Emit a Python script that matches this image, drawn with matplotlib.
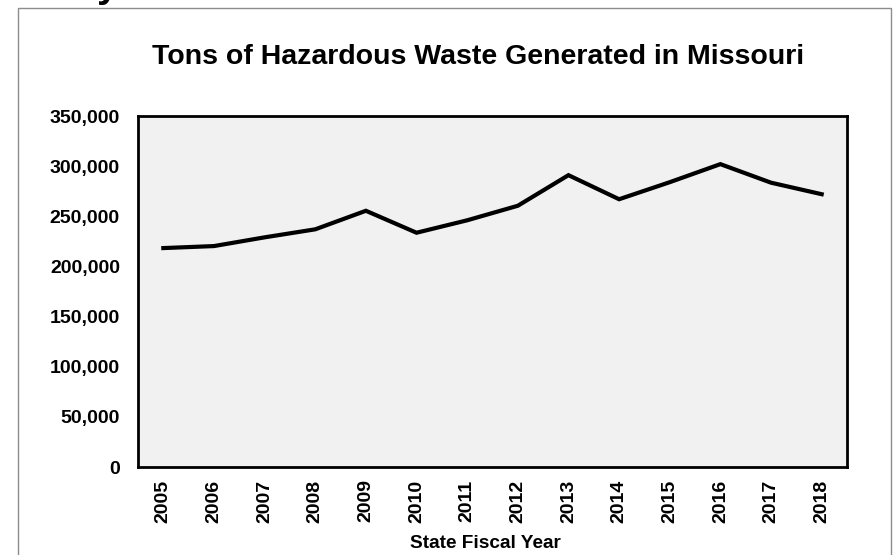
import matplotlib.pyplot as plt
from matplotlib.patches import Rectangle
from matplotlib.ticker import FuncFormatter

plt.rcParams["font.family"] = ["Liberation Sans", "DejaVu Sans"]
plt.rcParams["font.weight"] = "bold"

# data
years = ["2005", "2006", "2007", "2008", "2009", "2010", "2011",
         "2012", "2013", "2014", "2015", "2016", "2017", "2018"]
tons = [218300, 220300, 229000, 237000, 255500, 233600, 246000,
        260500, 291000, 267000, 284000, 302000, 283500, 272000]
y_ticks = [0, 50000, 100000, 150000, 200000, 250000, 300000, 350000]

fig = plt.figure(figsize=(8.96, 5.55), dpi=100)

# outer frame of the pasted chart (runs off the bottom of the image)
fig.patches.append(Rectangle((18 / 896, -0.05), (891 - 18) / 896, 1.05 - 8 / 555,
                             transform=fig.transFigure, fill=False,
                             edgecolor="#8c8c8c", linewidth=1.0))
# tail of a letter from the text above, cut off at the top
fig.text(108 / 896, 1.0 + 13 / 555, "y", fontsize=28, ha="center", va="center")

ax = fig.add_axes([138 / 896, 1 - 467 / 555, (847 - 138) / 896, (467 - 116) / 555])
ax.set_facecolor("#f1f1f1")

x = list(range(len(years)))
ax.plot(x, tons, color="black", linewidth=3.0, solid_joinstyle="miter")

ax.set_xlim(-0.5, len(years) - 0.5)
ax.set_ylim(0, 350000)
ax.set_xticks(x)
ax.set_xticklabels(years, rotation=90)
ax.set_yticks(y_ticks)
ax.yaxis.set_major_formatter(FuncFormatter(lambda v, p: f"{int(v):,}"))
ax.tick_params(axis="both", length=0, labelsize=14)
ax.tick_params(axis="y", pad=13)
ax.tick_params(axis="x", pad=9)

for s in ax.spines.values():
    s.set_linewidth(2.0)
    s.set_color("black")

ax.set_xlabel("State Fiscal Year", fontsize=13.7, fontweight="bold")
ax.xaxis.set_label_coords((485 - 138) / (847 - 138), -(543 - 467) / (467 - 116), transform=ax.transAxes)
ax.xaxis.label.set_va("center")
fig.text(478 / 896, 1 - 57 / 555, "Tons of Hazardous Waste Generated in Missouri",
         fontsize=20.5, fontweight="bold", ha="center", va="center")

fig.savefig("out.png", dpi=100)
